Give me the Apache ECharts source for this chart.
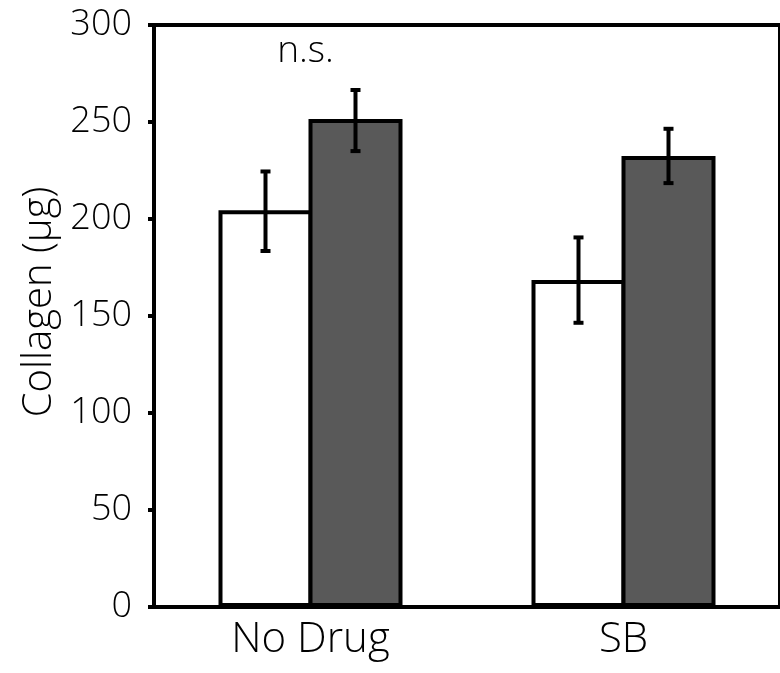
<!DOCTYPE html>
<html><head><meta charset="utf-8">
<script src="https://cdn.jsdelivr.net/npm/echarts@6/dist/echarts.min.js"></script>
<style>html,body{margin:0;padding:0;background:#fff}#c{width:780px;height:673px}</style>
</head><body><div id="c"></div>
<script>
const categories = ['No Drug', 'SB'];
const controlMeans = [204.5, 168.5];
const controlLow = [183.5, 146.5];
const controlHigh = [224.5, 190.5];
const treatedMeans = [251.5, 232.5];
const treatedLow = [235, 218.5];
const treatedHigh = [266.5, 246.5];
const yTicks = [0, 50, 100, 150, 200, 250, 300];
const annotations = [[0, 286.5, 'n.s.']];

const FONT = '"Open Sans", Lato, sans-serif';
const WEIGHT = 350;
const BAR_W = 94;
const OVERLAP = 4;

const chart = echarts.init(document.getElementById('c'));

function errItem(offset) {
  return function (params, api) {
    const lo = api.coord([api.value(0), api.value(1)]);
    const hi = api.coord([api.value(0), api.value(2)]);
    const cx = lo[0] + offset;
    const st = {stroke: '#000', lineWidth: 4};
    return {type: 'group', children: [
      {type: 'line', shape: {x1: cx, y1: lo[1], x2: cx, y2: hi[1]}, style: st},
      {type: 'line', shape: {x1: cx - 5, y1: lo[1], x2: cx + 5, y2: lo[1]}, style: st},
      {type: 'line', shape: {x1: cx - 5, y1: hi[1], x2: cx + 5, y2: hi[1]}, style: st}
    ]};
  };
}

const half = (BAR_W - OVERLAP) / 2;

chart.setOption({
  animation: false,
  grid: {left: 154, top: 25, width: 634, height: 582, show: true, borderColor: '#000', borderWidth: 4, backgroundColor: 'transparent'},
  xAxis: {
    type: 'category', data: categories,
    axisLine: {lineStyle: {color: '#000', width: 4}},
    axisTick: {show: false},
    axisLabel: {color: '#000', fontFamily: FONT, fontWeight: WEIGHT, fontSize: 42, margin: 12}
  },
  yAxis: {
    type: 'value', min: 0, max: 300, interval: 50,
    name: 'Collagen (μg)', nameLocation: 'middle', nameGap: 91,
    nameTextStyle: {color: '#000', fontFamily: FONT, fontWeight: WEIGHT, fontSize: 40, padding: [0, 0, 0, 28]},
    splitLine: {show: false},
    axisLine: {show: true, lineStyle: {color: '#000', width: 4}},
    axisTick: {show: true, length: 6, lineStyle: {color: '#000', width: 4}},
    axisLabel: {color: '#000', fontFamily: FONT, fontWeight: WEIGHT, fontSize: 36, margin: 22,
      formatter: v => yTicks.indexOf(v) >= 0 ? String(v) : ''}
  },
  series: [
    {type: 'bar', data: controlMeans, barWidth: BAR_W, barGap: (-OVERLAP / BAR_W * 100) + '%',
      itemStyle: {color: '#fff', borderColor: '#000', borderWidth: 4}},
    {type: 'bar', data: treatedMeans, barWidth: BAR_W,
      itemStyle: {color: '#595959', borderColor: '#000', borderWidth: 4}},
    {type: 'custom', z: 10, renderItem: errItem(-half),
      data: categories.map((c, i) => [i, controlLow[i], controlHigh[i]])},
    {type: 'custom', z: 10, renderItem: errItem(half),
      data: categories.map((c, i) => [i, treatedLow[i], treatedHigh[i]])},
    {type: 'custom', z: 10, data: annotations,
      renderItem: function (params, api) {
        const p = api.coord([api.value(0), api.value(1)]);
        return {type: 'text', x: p[0] - 5, y: p[1],
          style: {text: annotations[params.dataIndex][2], fill: '#000', font: WEIGHT + ' 37px ' + FONT, align: 'center', verticalAlign: 'middle'}};
      }}
  ]
});
</script></body></html>
